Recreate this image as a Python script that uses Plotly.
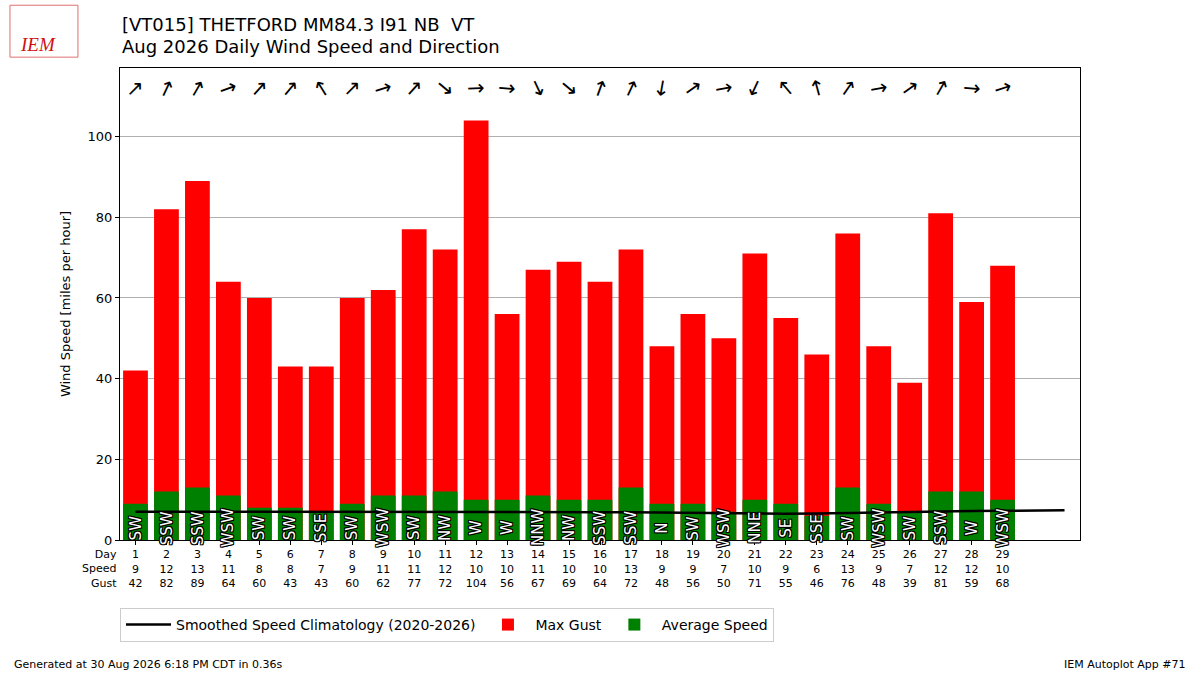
import plotly.graph_objects as go

# daily values
days = list(range(1, 30))
avg_speed = [9, 12, 13, 11, 8, 8, 7, 9, 11, 11, 12, 10, 10, 11, 10,
             10, 13, 9, 9, 7, 10, 9, 6, 13, 9, 7, 12, 12, 10]
max_gust = [42, 82, 89, 64, 60, 43, 43, 60, 62, 77, 72, 104, 56, 67, 69,
            64, 72, 48, 56, 50, 71, 55, 46, 76, 48, 39, 81, 59, 68]
dir_text = ["SW", "SSW", "SSW", "WSW", "SW", "SW", "SSE", "SW", "WSW", "SW",
            "NW", "W", "W", "NNW", "NW", "SSW", "SSW", "N", "SW", "WSW",
            "NNE", "SE", "SSE", "SW", "WSW", "SW", "SSW", "W", "WSW"]
# average direction (degrees, wind from), estimated from arrows
drct = [225, 205, 210, 250, 222, 220, 148, 225, 253, 222,
        310, 268, 275, 335, 310, 200, 205, 10, 235, 260,
        25, 140, 165, 215, 260, 235, 210, 275, 252]

clim_days = list(range(1, 32))
clim_speed = [7.0, 7.0, 6.95, 6.9, 6.9, 6.9, 6.9, 6.95, 7.0, 7.0,
              7.05, 7.05, 7.0, 7.0, 6.95, 6.9, 6.85, 6.75, 6.7, 6.65,
              6.55, 6.5, 6.55, 6.7, 6.9, 7.0, 7.1, 7.2, 7.25, 7.3, 7.35]

title1 = "[VT015] THETFORD MM84.3 I91 NB  VT"
title2 = "Aug 2026 Daily Wind Speed and Direction"

font = "DejaVu Sans"

fig = go.Figure()
fig.add_trace(go.Scatter(x=clim_days, y=clim_speed, mode="lines",
                         line=dict(color="black", width=2.5),
                         name="Smoothed Speed Climatology (2020-2026)"))
fig.add_trace(go.Bar(x=days, y=max_gust, marker_color="red", width=0.8,
                     marker_line_width=0, name="Max Gust"))
fig.add_trace(go.Bar(x=days, y=avg_speed, marker_color="green", width=0.8,
                     marker_line_width=0, name="Average Speed"))

ticktext = ["%d<br>%d<br>%d" % (d, s, g)
            for d, s, g in zip(days, avg_speed, max_gust)]

annotations = []
outline = ("-1px -1px 0 #000, 1px -1px 0 #000, -1px 1px 0 #000, "
           "1px 1px 0 #000, 0 1px 0 #000, 0 -1px 0 #000, "
           "1px 0 0 #000, -1px 0 0 #000")
for d, txt, dd in zip(days, dir_text, drct):
    annotations.append(dict(x=d, y=3.0, text=txt, showarrow=False,
                            textangle=-90,
                            font=dict(family=font, size=15, color="white",
                                      shadow=outline)))
    annotations.append(dict(x=d, y=112, text="\u2192", showarrow=False,
                            textangle=dd + 90,
                            font=dict(family=font, size=21, color="black")))

annotations += [
    dict(xref="paper", yref="paper", x=0, y=1.0932, xanchor="left",
         yanchor="middle", text=title1, showarrow=False,
         font=dict(family=font, size=18, color="black")),
    dict(xref="paper", yref="paper", x=0, y=1.0445, xanchor="left",
         yanchor="middle", text=title2, showarrow=False,
         font=dict(family=font, size=18, color="black")),
    dict(xref="paper", yref="paper", x=0, y=0, xanchor="right",
         yanchor="top", yshift=-6, xshift=-1, align="right",
         text="Day<br>Speed<br>Gust", showarrow=False,
         font=dict(family=font, size=11, color="black")),
    dict(xref="paper", yref="paper", x=-0.1125, y=-0.263, xanchor="left",
         yanchor="middle", text="Generated at 30 Aug 2026 6:18 PM CDT in 0.36s",
         showarrow=False, font=dict(family=font, size=11, color="black")),
    dict(xref="paper", yref="paper", x=1.1125, y=-0.263, xanchor="right",
         yanchor="middle", text="IEM Autoplot App #71",
         showarrow=False, font=dict(family=font, size=11, color="black")),
    dict(xref="paper", yref="paper", x=-0.0854, y=1.049, xanchor="center",
         yanchor="middle", text="<i>IEM</i>", showarrow=False,
         font=dict(family="Liberation Serif", size=19, color="#d01010")),
]

# logo outline
shapes = [dict(type="rect", xref="paper", yref="paper",
               x0=-0.1146, x1=-0.0438, y0=1.023, y1=1.133,
               line=dict(color="#e07070", width=1))]

fig.update_layout(
    width=1200, height=675,
    margin=dict(l=120, r=120, t=68, b=135),
    plot_bgcolor="white", paper_bgcolor="white",
    barmode="overlay",
    font=dict(family=font, size=13, color="black"),
    xaxis=dict(range=[0.5, 31.5], tickmode="array", tickvals=days,
               ticktext=ticktext, tickfont=dict(size=11),
               ticks="outside", ticklen=4, tickcolor="black",
               showline=True, linecolor="black", mirror=True,
               showgrid=False, zeroline=False),
    yaxis=dict(range=[0, 117], dtick=20, ticks="outside", ticklen=4,
               tickcolor="black", showline=True, linecolor="black",
               mirror=True, showgrid=True, gridcolor="#b0b0b0",
               zeroline=False, tickfont=dict(size=13),
               title=dict(text="Wind Speed [miles per hour]",
                          font=dict(size=13), standoff=14)),
    legend=dict(orientation="h", x=0, xanchor="left", y=-0.144,
                yanchor="top", bordercolor="#cccccc", borderwidth=1,
                itemwidth=45, font=dict(family=font, size=14)),
    annotations=annotations,
    shapes=shapes,
)

fig.write_html("out.html", config={"displayModeBar": False},
               post_script="document.body.style.margin = '0';")
